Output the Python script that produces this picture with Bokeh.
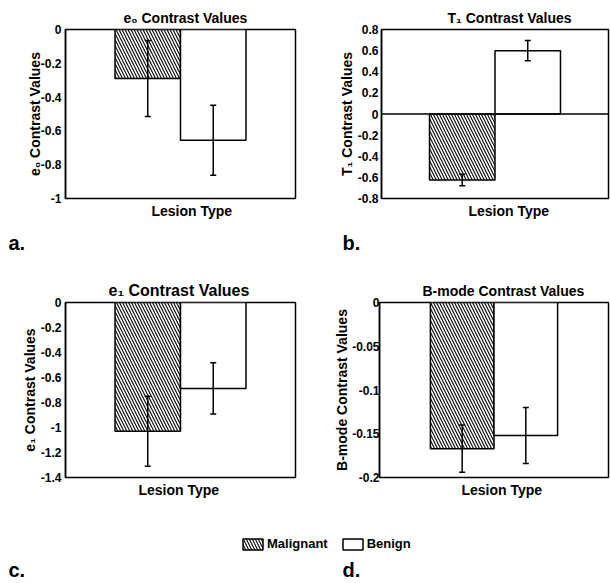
from bokeh.plotting import figure
from bokeh.models import (ColumnDataSource, FactorRange, Range1d, FixedTicker, Whisker,
                          TeeHead, Span, Title, Label, Legend, LegendItem)
from bokeh.layouts import column, row
from bokeh.embed import file_html
from bokeh.resources import INLINE

# ---------------- data ----------------
lesion_types = ["Malignant", "Benign"]
lesion_hatches = ["\\", " "]

e0_means = [-0.29, -0.655]
e0_errs = [0.225, 0.207]

t1_means = [-0.625, 0.60]
t1_errs = [0.055, 0.095]

e1_means = [-1.03, -0.687]
e1_errs = [0.28, 0.205]

bmode_means = [-0.167, -0.152]
bmode_errs = [0.027, 0.032]

e0_ticks = [0, -0.2, -0.4, -0.6, -0.8, -1]
e0_tick_labels = ["0", "-0.2", "-0.4", "-0.6", "-0.8", "-1"]
t1_ticks = [0.8, 0.6, 0.4, 0.2, 0, -0.2, -0.4, -0.6, -0.8]
t1_tick_labels = ["0.8", "0.6", "0.4", "0.2", "0", "-0.2", "-0.4", "-0.6", "-0.8"]
e1_ticks = [0, -0.2, -0.4, -0.6, -0.8, -1, -1.2, -1.4]
e1_tick_labels = ["0", "-0.2", "-0.4", "-0.6", "-0.8", "-1", "-1.2", "-1.4"]
bmode_ticks = [0, -0.05, -0.1, -0.15, -0.2]
bmode_tick_labels = ["0", "-0.05", "-0.1", "-0.15", "-0.2"]

FONT = "Liberation Sans"
HATCH = dict(hatch_color="black", hatch_scale=6.0, hatch_weight=1.1)


def make_panel(title, ylabel, means, errs, ticks, tick_labels, yr, width, height,
               bl, br, bt, bb, pad, title_size, title_offset, xlabel_offset,
               tick_standoff, label_standoff, zero_line=False):
    p = figure(x_range=FactorRange(*lesion_types, range_padding=pad, range_padding_units="absolute"),
               y_range=Range1d(*yr), width=width, height=height,
               output_backend="svg", toolbar_location=None, x_axis_location=None,
               min_border_left=bl, min_border_right=br, min_border_top=bt, min_border_bottom=bb)
    p.xgrid.visible = False
    p.ygrid.visible = False
    p.outline_line_color = "black"
    p.outline_line_width = 1.5
    p.background_fill_color = "white"
    p.border_fill_color = "white"

    p.title.text = title
    p.title.align = "left"
    p.title.offset = title_offset
    p.title.text_font = FONT
    p.title.text_font_style = "bold"
    p.title.text_font_size = title_size
    p.title.text_color = "black"
    p.title.standoff = 8

    src = ColumnDataSource(dict(
        lesion=lesion_types,
        top=[max(m, 0) for m in means],
        bottom=[min(m, 0) for m in means],
        upper=[m + e for m, e in zip(means, errs)],
        lower=[m - e for m, e in zip(means, errs)],
        hatch=lesion_hatches,
    ))
    p.vbar(x="lesion", top="top", bottom="bottom", width=1.0, source=src,
           fill_color="white", line_color="black", line_width=1.5,
           hatch_pattern="hatch", **HATCH)
    if zero_line:
        p.add_layout(Span(location=0, dimension="width", line_color="black", line_width=1.5))
    p.add_layout(Whisker(base="lesion", upper="upper", lower="lower", source=src, level="overlay",
                         line_color="black", line_width=1.5,
                         upper_head=TeeHead(size=6, line_color="black", line_width=1.5),
                         lower_head=TeeHead(size=6, line_color="black", line_width=1.5)))

    # x axis label (no tick labels in the original)
    p.add_layout(Title(text="Lesion Type", align="left", offset=xlabel_offset, vertical_align="top",
                       text_font=FONT, text_font_style="bold", text_font_size="14px",
                       text_color="black", standoff=8), "below")

    # y axis
    ya = p.yaxis[0]
    ya.ticker = FixedTicker(ticks=ticks)
    ya.major_label_overrides = {t: l for t, l in zip(ticks, tick_labels)}
    ya.major_label_text_font = FONT
    ya.major_label_text_font_style = "bold"
    ya.major_label_text_font_size = "12px"
    ya.major_label_text_color = "black"
    ya.major_label_standoff = tick_standoff
    ya.major_tick_line_color = None
    ya.major_tick_in = 0
    ya.major_tick_out = 0
    ya.minor_tick_line_color = None
    ya.axis_line_color = "black"
    ya.axis_line_width = 1.5
    ya.axis_label = ylabel
    ya.axis_label_text_font = FONT
    ya.axis_label_text_font_style = "bold"
    ya.axis_label_text_font_size = "14px"
    ya.axis_label_text_color = "black"
    ya.axis_label_standoff = label_standoff
    return p


def make_strip(height, labels):
    s = figure(width=610, height=height, x_range=Range1d(0, 610), y_range=Range1d(height, 0),
               output_backend="svg", toolbar_location=None, title=None,
               min_border=0, x_axis_location=None, y_axis_location=None)
    s.xgrid.visible = False
    s.ygrid.visible = False
    s.outline_line_color = None
    for text, x, y in labels:
        s.add_layout(Label(x=x, y=y, text=text, text_font=FONT, text_font_style="bold",
                           text_font_size="20px", text_color="black", text_baseline="bottom"))
    return s


pa = make_panel("e\u2080 Contrast Values", "e\u2080 Contrast Values", e0_means, e0_errs,
                e0_ticks, e0_tick_labels, (-1, 0), 305, 228, 65, 10, 29, 30, 0.756, "14px", 58, 86,
                4, -5)
pb = make_panel("T\u2081 Contrast Values", "T\u2081 Contrast Values", t1_means, t1_errs,
                t1_ticks, t1_tick_labels, (-0.8, 0.8), 305, 228, 76, 2, 29, 30, 0.733, "14px", 66, 87,
                3, 0, zero_line=True)
pc = make_panel("e\u2081 Contrast Values", "e\u2081 Contrast Values", e1_means, e1_errs,
                e1_ticks, e1_tick_labels, (-1.4, 0), 305, 270, 65, 10, 42, 53, 0.756, "16px", 43, 73,
                4, 0)
pd = make_panel("B-mode Contrast Values", "B-mode Contrast Values", bmode_means, bmode_errs,
                bmode_ticks, bmode_tick_labels, (-0.2, 0), 305, 270, 74, 2, 42, 53, 0.80, "14px", 43, 82,
                0, -1)

strip1 = make_strip(32, [("a.", 8, 25), ("b.", 342, 25)])
strip2 = make_strip(52, [("c.", 8, 50), ("d.", 342, 50)])

# legend (swatch renderers lie outside the visible strip)
r_mal = strip2.quad(left=[-60], right=[-50], top=[-60], bottom=[-50], fill_color="white",
                    line_color="black", line_width=1.5, hatch_pattern="\\", **HATCH)
r_ben = strip2.quad(left=[-60], right=[-50], top=[-60], bottom=[-50], fill_color="white",
                    line_color="black", line_width=1.5)
leg = Legend(items=[LegendItem(label=lesion_types[0], renderers=[r_mal]),
                    LegendItem(label=lesion_types[1], renderers=[r_ben])],
             orientation="horizontal", location=(240, 31),
             glyph_width=25, glyph_height=14, label_height=14, label_standoff=2, spacing=12,
             padding=0, margin=0, border_line_color=None, background_fill_alpha=0,
             label_text_font=FONT, label_text_font_style="bold", label_text_font_size="13px",
             label_text_color="black")
strip2.add_layout(leg, "center")

layout = column(row(pa, pb), strip1, row(pc, pd), strip2)

open("out.html", "w").write(file_html(layout, INLINE))
